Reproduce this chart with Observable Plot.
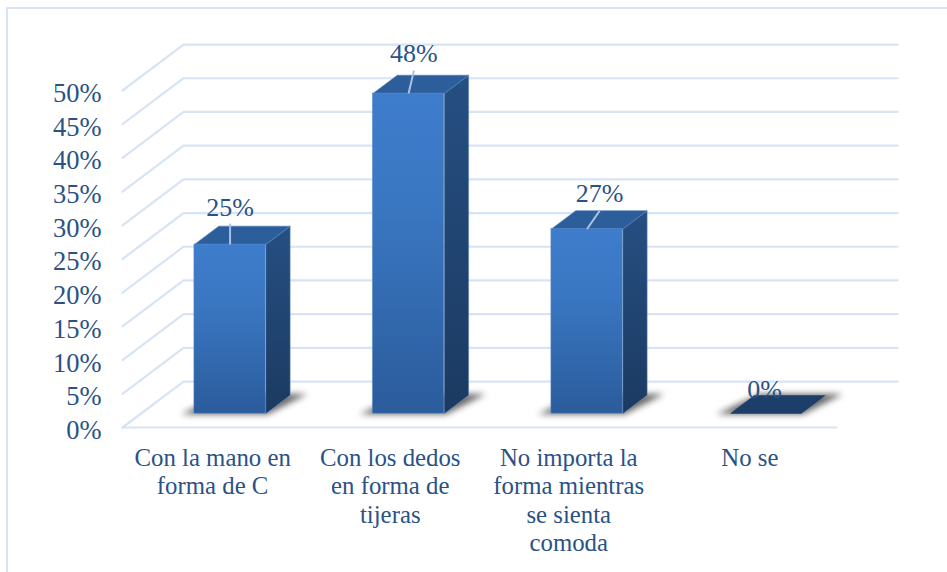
<!DOCTYPE html>
<html>
<head>
<meta charset="utf-8">
<script src="https://cdn.jsdelivr.net/npm/d3@7"></script>
<script src="https://cdn.jsdelivr.net/npm/@observablehq/plot@0.6"></script>
<style>
  html, body { margin: 0; padding: 0; background: #fff; width: 947px; height: 572px; overflow: hidden; }
  #frame { position: absolute; left: 6px; top: 7px; width: 960px; height: 600px; border-left: 2px solid #d7e4f4; border-top: 2px solid #d7e4f4; }
  #chart { position: absolute; left: 0; top: 0; }
  #chart svg { background: transparent; display: block; }
  [aria-label="shadow"] { filter: blur(3px); }
</style>
</head>
<body>
<div id="frame"></div>
<div id="chart"></div>
<script>
const categories = ["Con la mano en\nforma de C", "Con los dedos\nen forma de\ntijeras", "No importa la\nforma mientras\nse sienta\ncomoda", "No se"];
const values = [25.1, 47.5, 27.4, 0];
const yTicks = [0, 5, 10, 15, 20, 25, 30, 35, 40, 45, 50];

// depth of the fake 3D floor: one unit of z moves a point this far along x and y
const depthX = 0.342, depthY = 6.82;
const barStart = 0.3, barWidth = 0.4, zFront = 0.3, zBack = 0.7;
// label placement relative to the front-top centre of each bar (x in bands, y in %)
const labelShift = [0, 0.03, 0.07, -0.005];
const labelLift = [5.5, 5.9, 5.2, 3.5];
const leaderLift = [3.1, 3.4, 2.7, 0];
const catShift = [0.005, 0, 0, 0.015];

const textColor = "#2a5285";
const gridColor = "#d7e4f4";

const px = (u, z) => u + z * depthX;
const py = (v, z) => v + z * depthY;

const gridRows = yTicks.flatMap(t => [
  {t, x: px(0, 0), y: py(t, 0)},
  {t, x: px(0, 1), y: py(t, 1)},
  {t, x: px(4, 1), y: py(t, 1)}
]);
const floorFront = [{x: 0, y: 0}, {x: 4, y: 0}];

const bars = values.map((v, i) => ({v, i, u0: i + barStart, u1: i + barStart + barWidth}));
const poly = (fn) => bars.flatMap(b => {
  const pts = fn(b);
  return [...pts, pts[0]].map(([x, y]) => ({i: b.i, v: b.v, x, y}));
});

const topFace = poly(b => [
  [px(b.u0, zFront), py(b.v, zFront)], [px(b.u1, zFront), py(b.v, zFront)],
  [px(b.u1, zBack), py(b.v, zBack)], [px(b.u0, zBack), py(b.v, zBack)]
]);
const sideFace = poly(b => [
  [px(b.u1, zFront), py(0, zFront)], [px(b.u1, zBack), py(0, zBack)],
  [px(b.u1, zBack), py(b.v, zBack)], [px(b.u1, zFront), py(b.v, zFront)]
]);
const shadow = poly(b => [
  [px(b.u0 - 0.075, zFront), py(0, zFront - 0.01)], [px(b.u1 + 0.01, zFront), py(0, zFront - 0.01)],
  [px(b.u1 + 0.085, zBack + 0.03), py(0, zBack + 0.03)], [px(b.u0 + 0.02, zBack + 0.03), py(0, zBack + 0.03)]
]);

const labels = bars.map((b, k) => ({
  text: Math.round(b.v) + "%",
  fx: px(b.u0 + barWidth / 2, zFront), fy: py(b.v, zFront),
  lx: px(b.u0 + barWidth / 2, zFront) + labelShift[k], ly: py(b.v, zFront) + labelLift[k],
  tx: px(b.u0 + barWidth / 2, zFront) + labelShift[k], ty: py(b.v, zFront) + leaderLift[k]
}));

const defs = () => d3.create("svg:defs").html(`
  <linearGradient id="frontGrad" x1="0" y1="0" x2="0" y2="1">
    <stop offset="0" stop-color="#3e7dcc"/><stop offset="0.35" stop-color="#3a77c2"/><stop offset="1" stop-color="#2b5c9c"/>
  </linearGradient>
  <linearGradient id="sideGrad" x1="0" y1="0" x2="0" y2="1">
    <stop offset="0" stop-color="#264f82"/><stop offset="1" stop-color="#1b3a61"/>
  </linearGradient>`).node();

const chart = Plot.plot({
  width: 947,
  height: 572,
  margin: 0,
  x: {type: "linear", domain: [0, 4], range: [122, 836], axis: null},
  y: {type: "linear", domain: [0, 50], range: [427, 90], axis: null},
  style: {background: "transparent", fontFamily: "'Liberation Serif', serif", color: textColor},
  marks: [
    defs,
    Plot.line(gridRows, {x: "x", y: "y", z: "t", stroke: gridColor, strokeWidth: 2.2}),
    Plot.line(floorFront, {x: "x", y: "y", stroke: gridColor, strokeWidth: 2.2}),
    Plot.line(shadow, {x: "x", y: "y", z: "i", fill: "#686868", stroke: "none", ariaLabel: () => "shadow"}),
    Plot.line(sideFace.filter(d => d.v > 0), {x: "x", y: "y", z: "i", fill: "url(#sideGrad)", stroke: "#6f97c9", strokeWidth: 0.8, strokeOpacity: 0.6}),
    Plot.line(topFace.filter(d => d.v > 0), {x: "x", y: "y", z: "i", fill: "#2c5e9b", stroke: "#4f7fb9", strokeWidth: 0.6}),
    Plot.line(topFace.filter(d => d.v === 0), {x: "x", y: "y", z: "i", fill: "#1c3e69", stroke: "none"}),
    Plot.rect(bars.filter(d => d.v > 0), {
      x1: d => px(d.u0, zFront), x2: d => px(d.u1, zFront),
      y1: () => py(0, zFront), y2: d => py(d.v, zFront),
      fill: "url(#frontGrad)", stroke: "#5f8fcd", strokeWidth: 0.8, strokeOpacity: 0.6
    }),
    Plot.link(labels.filter(d => d.text !== "0%"), {x1: "fx", y1: "fy", x2: "tx", y2: "ty", stroke: "#a8c2e3", strokeWidth: 2}),
    Plot.axisY({ticks: yTicks, x: 0, anchor: "left", tickSize: 0, tickPadding: 21, tickFormat: d => d + "%", label: null, fontSize: 26.5, dy: 3, fill: textColor, textAnchor: "end"}),
    Plot.text(labels, {x: "lx", y: "ly", text: "text", fontSize: 26, fill: textColor}),
    Plot.text(categories, {x: (d, i) => i + 0.5 + catShift[i], y: () => 0, text: d => d, lineAnchor: "top", dy: 18, lineHeight: 1.15, fontSize: 24.8, fill: textColor, textAnchor: "middle"})
  ]
});
document.getElementById("chart").append(chart);
</script>
</body>
</html>
